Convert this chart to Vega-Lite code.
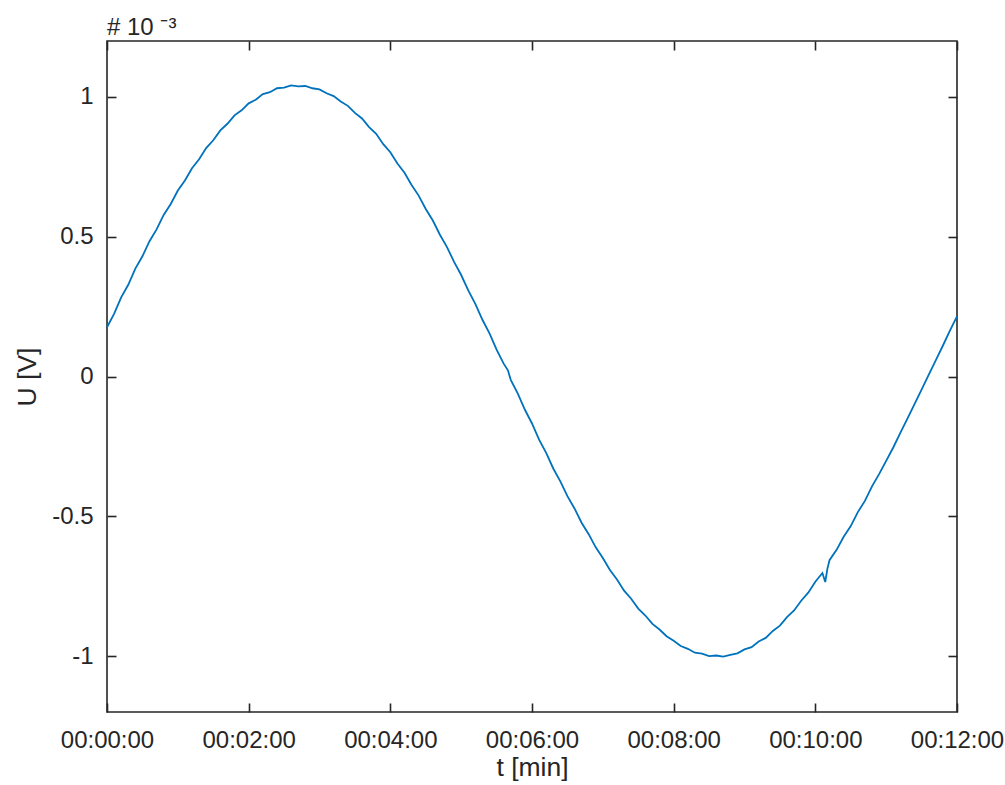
{
  "$schema": "https://vega.github.io/schema/vega-lite/v6.json",
  "width": 850,
  "height": 671,
  "autosize": "none",
  "padding": {"left": 107, "top": 41, "right": 48, "bottom": 73},
  "background": "white",
  "config": {
    "font": "Liberation Sans",
    "view": {"stroke": "#262626", "strokeWidth": 1.6},
    "axis": {
      "grid": false,
      "domain": false,
      "tickColor": "#262626",
      "tickWidth": 1.6,
      "tickSize": 9,
      "offset": -9,
      "labelFlush": false,
      "labelFont": "Liberation Sans",
      "labelFontSize": 24,
      "labelColor": "#262626",
      "titleFont": "Liberation Sans",
      "titleFontSize": 26.5,
      "titleFontWeight": "normal",
      "titleColor": "#262626"
    }
  },
  "title": {
    "text": "# 10 ⁻³",
    "anchor": "start",
    "frame": "group",
    "fontSize": 24,
    "fontWeight": "normal",
    "color": "#262626",
    "font": "Liberation Sans",
    "offset": -19,
    "baseline": "alphabetic"
  },
  "data": {
    "values": [
      {"t": 0.0, "U": 0.176}, {"t": 0.1, "U": 0.224}, {"t": 0.2, "U": 0.283}, {"t": 0.3, "U": 0.328},
      {"t": 0.4, "U": 0.386}, {"t": 0.5, "U": 0.430}, {"t": 0.6, "U": 0.484}, {"t": 0.7, "U": 0.526},
      {"t": 0.8, "U": 0.578}, {"t": 0.9, "U": 0.617}, {"t": 1.0, "U": 0.665}, {"t": 1.1, "U": 0.701},
      {"t": 1.2, "U": 0.745}, {"t": 1.3, "U": 0.777}, {"t": 1.4, "U": 0.817}, {"t": 1.5, "U": 0.845},
      {"t": 1.6, "U": 0.880}, {"t": 1.7, "U": 0.904}, {"t": 1.8, "U": 0.934}, {"t": 1.9, "U": 0.952},
      {"t": 2.0, "U": 0.977}, {"t": 2.1, "U": 0.990}, {"t": 2.2, "U": 1.010}, {"t": 2.3, "U": 1.017},
      {"t": 2.4, "U": 1.031}, {"t": 2.5, "U": 1.033}, {"t": 2.6, "U": 1.041}, {"t": 2.7, "U": 1.038},
      {"t": 2.8, "U": 1.039}, {"t": 2.9, "U": 1.031}, {"t": 3.0, "U": 1.027}, {"t": 3.1, "U": 1.013},
      {"t": 3.2, "U": 1.003}, {"t": 3.3, "U": 0.984}, {"t": 3.4, "U": 0.968}, {"t": 3.5, "U": 0.943},
      {"t": 3.6, "U": 0.923}, {"t": 3.7, "U": 0.892}, {"t": 3.8, "U": 0.868}, {"t": 3.9, "U": 0.831},
      {"t": 4.0, "U": 0.802}, {"t": 4.1, "U": 0.762}, {"t": 4.2, "U": 0.729}, {"t": 4.3, "U": 0.685},
      {"t": 4.4, "U": 0.647}, {"t": 4.5, "U": 0.599}, {"t": 4.6, "U": 0.558}, {"t": 4.7, "U": 0.507},
      {"t": 4.8, "U": 0.463}, {"t": 4.9, "U": 0.410}, {"t": 5.0, "U": 0.363}, {"t": 5.1, "U": 0.308},
      {"t": 5.2, "U": 0.260}, {"t": 5.3, "U": 0.203}, {"t": 5.4, "U": 0.154}, {"t": 5.5, "U": 0.096},
      {"t": 5.6, "U": 0.046}, {"t": 5.66, "U": 0.022}, {"t": 5.7, "U": -0.012}, {"t": 5.8, "U": -0.061},
      {"t": 5.9, "U": -0.119}, {"t": 6.0, "U": -0.168}, {"t": 6.1, "U": -0.226}, {"t": 6.2, "U": -0.273},
      {"t": 6.3, "U": -0.329}, {"t": 6.4, "U": -0.375}, {"t": 6.5, "U": -0.428}, {"t": 6.6, "U": -0.472},
      {"t": 6.7, "U": -0.523}, {"t": 6.8, "U": -0.564}, {"t": 6.9, "U": -0.611}, {"t": 7.0, "U": -0.649},
      {"t": 7.1, "U": -0.692}, {"t": 7.2, "U": -0.726}, {"t": 7.3, "U": -0.766}, {"t": 7.4, "U": -0.795},
      {"t": 7.5, "U": -0.830}, {"t": 7.6, "U": -0.855}, {"t": 7.7, "U": -0.885}, {"t": 7.8, "U": -0.905},
      {"t": 7.9, "U": -0.929}, {"t": 8.0, "U": -0.945}, {"t": 8.1, "U": -0.964}, {"t": 8.2, "U": -0.974},
      {"t": 8.3, "U": -0.988}, {"t": 8.4, "U": -0.991}, {"t": 8.5, "U": -1.000}, {"t": 8.6, "U": -0.998},
      {"t": 8.7, "U": -1.002}, {"t": 8.8, "U": -0.996}, {"t": 8.9, "U": -0.990}, {"t": 9.0, "U": -0.976},
      {"t": 9.1, "U": -0.968}, {"t": 9.2, "U": -0.948}, {"t": 9.3, "U": -0.935}, {"t": 9.4, "U": -0.910},
      {"t": 9.5, "U": -0.891}, {"t": 9.6, "U": -0.861}, {"t": 9.7, "U": -0.837}, {"t": 9.8, "U": -0.802},
      {"t": 9.9, "U": -0.773}, {"t": 10.0, "U": -0.734}, {"t": 10.1, "U": -0.703}, {"t": 10.14, "U": -0.735},
      {"t": 10.17, "U": -0.688}, {"t": 10.2, "U": -0.657}, {"t": 10.3, "U": -0.620}, {"t": 10.4, "U": -0.573},
      {"t": 10.5, "U": -0.535}, {"t": 10.6, "U": -0.485}, {"t": 10.7, "U": -0.445}, {"t": 10.8, "U": -0.393},
      {"t": 10.9, "U": -0.349}, {"t": 11.0, "U": -0.302}, {"t": 11.1, "U": -0.254}, {"t": 11.2, "U": -0.202},
      {"t": 11.3, "U": -0.151}, {"t": 11.4, "U": -0.099}, {"t": 11.5, "U": -0.047}, {"t": 11.6, "U": 0.006},
      {"t": 11.7, "U": 0.058}, {"t": 11.8, "U": 0.110}, {"t": 11.9, "U": 0.164}, {"t": 12.0, "U": 0.215}
    ]
  },
  "layer": [
    {
      "mark": {"type": "line", "color": "#0072BD", "strokeWidth": 1.8},
      "encoding": {
        "x": {
          "field": "t", "type": "quantitative",
          "scale": {"domain": [0, 12], "nice": false, "zero": false},
          "axis": {
            "orient": "bottom",
            "values": [0, 2, 4, 6, 8, 10, 12],
            "labelExpr": "'00:' + (datum.value < 10 ? '0' : '') + datum.value + ':00'",
            "title": "t [min]",
            "labelPadding": 16,
            "titlePadding": 2
          }
        },
        "y": {
          "field": "U", "type": "quantitative",
          "scale": {"domain": [-1.2, 1.2], "nice": false, "zero": false},
          "axis": {
            "orient": "left",
            "values": [-1, -0.5, 0, 0.5, 1],
            "labelExpr": "datum.value < 0 ? '-' + (-datum.value) : '' + datum.value",
            "title": "U [V]",
            "labelPadding": 14,
            "titlePadding": 10
          }
        }
      }
    },
    {
      "mark": {"type": "line", "opacity": 0},
      "encoding": {
        "x": {
          "field": "t", "type": "quantitative",
          "scale": {"domain": [0, 12], "nice": false, "zero": false},
          "axis": {"orient": "top", "values": [0, 2, 4, 6, 8, 10, 12], "labels": false, "title": null}
        },
        "y": {
          "field": "U", "type": "quantitative",
          "scale": {"domain": [-1.2, 1.2], "nice": false, "zero": false},
          "axis": {"orient": "right", "values": [-1, -0.5, 0, 0.5, 1], "labels": false, "title": null}
        }
      }
    }
  ],
  "resolve": {"axis": {"x": "independent", "y": "independent"}}
}
